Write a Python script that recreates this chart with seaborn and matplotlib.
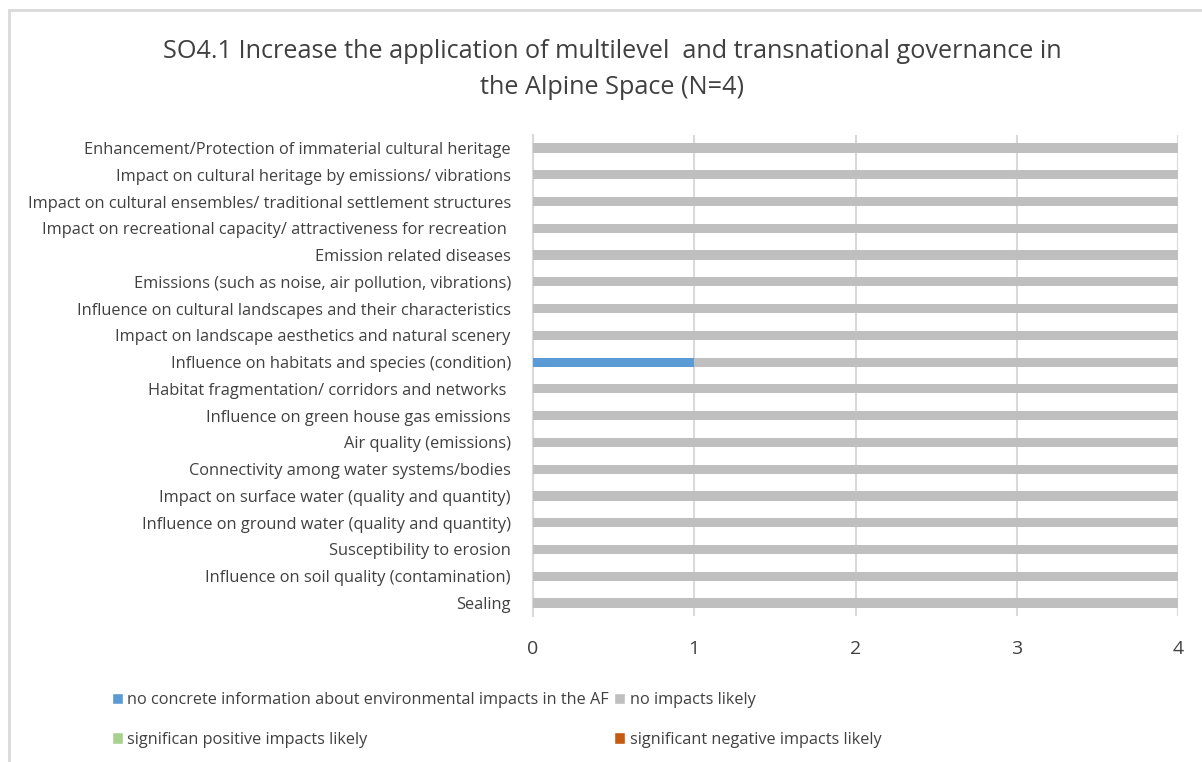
import matplotlib
matplotlib.use("Agg")
import matplotlib.pyplot as plt
import seaborn as sns
import pandas as pd
from matplotlib.patches import Patch
from matplotlib.lines import Line2D

categories = [
    "Enhancement/Protection of immaterial cultural heritage",
    "Impact on cultural heritage by emissions/ vibrations",
    "Impact on cultural ensembles/ traditional settlement structures",
    "Impact on recreational capacity/ attractiveness for recreation ",
    "Emission related diseases",
    "Emissions (such as noise, air pollution, vibrations)",
    "Influence on cultural landscapes and their characteristics",
    "Impact on landscape aesthetics and natural scenery",
    "Influence on habitats and species (condition)",
    "Habitat fragmentation/ corridors and networks ",
    "Influence on green house gas emissions",
    "Air quality (emissions)",
    "Connectivity among water systems/bodies",
    "Impact on surface water (quality and quantity)",
    "Influence on ground water (quality and quantity)",
    "Susceptibility to erosion",
    "Influence on soil quality (contamination)",
    "Sealing",
]
no_info = [0, 0, 0, 0, 0, 0, 0, 0, 1, 0, 0, 0, 0, 0, 0, 0, 0, 0]
no_impacts = [4, 4, 4, 4, 4, 4, 4, 4, 3, 4, 4, 4, 4, 4, 4, 4, 4, 4]
positive = [0] * 18
negative = [0] * 18

series_names = [
    "no concrete information about environmental impacts in the AF",
    "no impacts likely",
    "significan positive impacts likely",
    "significant negative impacts likely",
]
colors = ["#5B9BD5", "#BFBFBF", "#A9D18E", "#C55A11"]
x_ticks = [0, 1, 2, 3, 4]
title = "SO4.1 Increase the application of multilevel  and transnational governance in\nthe Alpine Space (N=4)"

sns.set_theme(style="white")
plt.rcParams["font.family"] = ["Open Sans", "DejaVu Sans"]

fig = plt.figure(figsize=(12.02, 7.62), dpi=100)
ax = fig.add_axes([533 / 1202, 1 - 616.4 / 762, (1178 - 533) / 1202, (616.4 - 134.6) / 762])

df = pd.DataFrame({
    "cat": categories,
    "s1": no_info,
    "s2": no_impacts,
    "s3": positive,
    "s4": negative,
})
df["c1"] = df["s1"]
df["c2"] = df["c1"] + df["s2"]
df["c3"] = df["c2"] + df["s3"]
df["c4"] = df["c3"] + df["s4"]

for col, color in zip(["c4", "c3", "c2", "c1"], colors[::-1]):
    sns.barplot(data=df, y="cat", x=col, order=categories, orient="h",
                color=color, width=0.34, saturation=1, ax=ax, zorder=3,
                linewidth=0)

ax.set_xlim(0, 4)
ax.set_xticks(x_ticks)
ax.set_xticklabels([str(t) for t in x_ticks], fontsize=14, color="#404040")
ax.tick_params(axis="x", length=0, pad=17)
ax.tick_params(axis="y", length=0, pad=16, labelsize=11.8, labelcolor="#404040")
ax.set_xlabel("")
ax.set_ylabel("")
ax.xaxis.grid(True, color="#D9D9D9", linewidth=1.5, zorder=0)
ax.yaxis.grid(False)
for s in ["top", "right", "bottom"]:
    ax.spines[s].set_visible(False)
ax.spines["left"].set_color("#D9D9D9")
ax.spines["left"].set_linewidth(1.5)

fig.text(612 / 1202, 1 - 69.5 / 762, title, ha="center", va="center",
         fontsize=18.2, color="#404040", linespacing=1.62)

handles = [Patch(facecolor=colors[0]), Patch(facecolor=colors[2]),
           Patch(facecolor=colors[1]), Patch(facecolor=colors[3])]
labels = [series_names[0], series_names[2], series_names[1], series_names[3]]
leg = fig.legend(handles, labels, ncol=2, loc="upper left",
                 bbox_to_anchor=(112 / 1202, 1 - 692 / 762),
                 frameon=False, fontsize=11.7, handlelength=0.7,
                 handleheight=0.7, handletextpad=0.25, columnspacing=0.3,
                 labelspacing=1.45, borderpad=0, borderaxespad=0)
for t in leg.get_texts():
    t.set_color("#404040")

# chart area border
fig.add_artist(Line2D([9 / 1202, 9 / 1202], [0, 1 - 10 / 762], transform=fig.transFigure,
                      color="#D9D9D9", linewidth=2))
fig.add_artist(Line2D([9 / 1202, 1], [1 - 10 / 762, 1 - 10 / 762], transform=fig.transFigure,
                      color="#D9D9D9", linewidth=2))

fig.savefig("out.png", dpi=100)
